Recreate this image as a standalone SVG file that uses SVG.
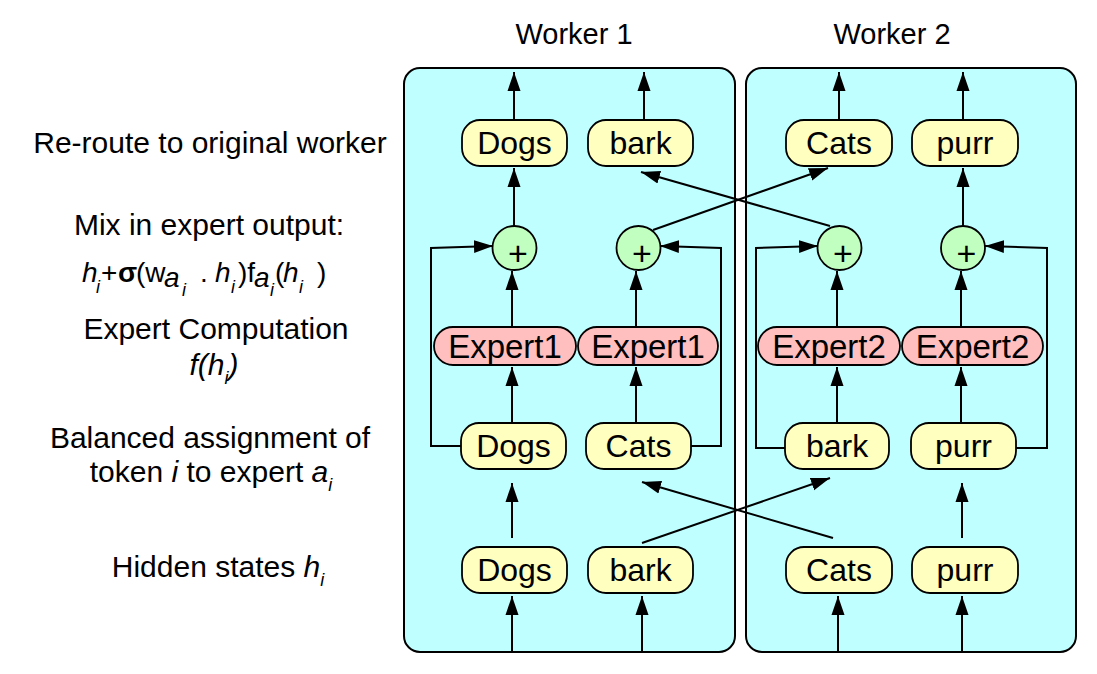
<svg xmlns="http://www.w3.org/2000/svg" width="1097" height="674" viewBox="0 0 1097 674">
<defs>
<style>
.txt{font-family:"Liberation Sans",Arial,sans-serif;fill:#000}
.lbl{font-size:30px}
.node{fill:#FFFFC0;stroke:#000;stroke-width:1.8}
.exp{fill:#FFBFBF;stroke:#000;stroke-width:1.8}
.plus{fill:#C0FFC0;stroke:#000;stroke-width:1.8}
.box{fill:#BFFFFF;stroke:#000;stroke-width:2}
.nt{font-size:32px;text-anchor:middle}
.et{font-size:33px;text-anchor:middle}
.pt{font-size:34px;text-anchor:middle}
.c{fill:none;stroke:#000;stroke-width:2;marker-end:url(#ah)}
.it{font-style:italic}
</style>
<marker id="ah" markerUnits="userSpaceOnUse" markerWidth="20" markerHeight="14" refX="19" refY="7" orient="auto">
<path d="M0,0.5 L19,7 L0,13.5 z" fill="#000"/>
</marker>
</defs>
<rect width="1097" height="674" fill="#fff"/>

<g id="labels" class="txt lbl">
<text x="574" y="44" text-anchor="middle" font-size="29">Worker 1</text>
<text x="892" y="44" text-anchor="middle" font-size="29">Worker 2</text>
<text x="210" y="153" text-anchor="middle">Re-route to original worker</text>
<text x="209" y="235" text-anchor="middle">Mix in expert output:</text>
<text y="282" font-size="28"><tspan x="82" class="it">h</tspan><tspan x="96" y="293" font-size="18" class="it">i</tspan><tspan x="101" y="282">+</tspan><tspan x="118" font-weight="bold">σ</tspan><tspan x="136">(w</tspan><tspan x="164" y="287" class="it">a</tspan><tspan x="182" y="296" font-size="18" class="it">i</tspan><tspan x="200" y="282">.</tspan><tspan x="215" class="it">h</tspan><tspan x="231" y="293" font-size="18" class="it">i</tspan><tspan x="238" y="282">)f</tspan><tspan x="254" y="287" class="it">a</tspan><tspan x="270" y="296" font-size="18" class="it">i</tspan><tspan x="275" y="282">(</tspan><tspan x="283" class="it">h</tspan><tspan x="299" y="293" font-size="18" class="it">i</tspan><tspan x="317" y="282">)</tspan></text>
<text x="216" y="339" text-anchor="middle">Expert Computation</text>
<text x="214" y="375" text-anchor="middle"><tspan class="it">f(h</tspan><tspan class="it" font-size="18" dy="9">i</tspan><tspan class="it" dy="-9">)</tspan></text>
<text x="210" y="448" text-anchor="middle">Balanced assignment of</text>
<text x="211" y="482" text-anchor="middle">token <tspan class="it">i</tspan> to expert <tspan class="it">a</tspan><tspan class="it" font-size="18" dy="9">i</tspan></text>
<text x="218" y="577" text-anchor="middle">Hidden states <tspan class="it">h</tspan><tspan class="it" font-size="18" dy="9">i</tspan></text>
</g>

<g id="worker1">
<rect class="box" x="404" y="68" width="331" height="584" rx="16"/>
</g>
<g id="worker2">
<rect class="box" x="746" y="68" width="330" height="584" rx="16"/>
</g>

<g id="connectors">
<line class="c" x1="512" y1="652" x2="512" y2="596"/>
<line class="c" x1="642" y1="652" x2="642" y2="596"/>
<line class="c" x1="838" y1="652" x2="838" y2="596"/>
<line class="c" x1="962" y1="652" x2="962" y2="596"/>
<line class="c" x1="512" y1="538" x2="512" y2="483"/>
<line class="c" x1="642" y1="543" x2="830" y2="478"/>
<line class="c" x1="833" y1="538" x2="642" y2="482"/>
<line class="c" x1="962" y1="538" x2="962" y2="483"/>
<line class="c" x1="512" y1="423" x2="512" y2="367"/>
<line class="c" x1="636" y1="423" x2="636" y2="367"/>
<line class="c" x1="837" y1="423" x2="837" y2="367"/>
<line class="c" x1="961" y1="423" x2="961" y2="367"/>
<line class="c" x1="512" y1="327" x2="512" y2="271"/>
<line class="c" x1="636" y1="327" x2="636" y2="271"/>
<line class="c" x1="837" y1="327" x2="837" y2="271"/>
<line class="c" x1="961" y1="327" x2="961" y2="271"/>
<polyline class="c" points="461,446 431,446 431,248 493,246"/>
<polyline class="c" points="691,446 721,446 721,248 660,246"/>
<polyline class="c" points="785,448 756,448 756,248 818,246"/>
<polyline class="c" points="1016,448 1047,448 1047,248 985,246"/>
<line class="c" x1="514" y1="226" x2="514" y2="168"/>
<line class="c" x1="653" y1="230" x2="828" y2="168"/>
<line class="c" x1="830" y1="226" x2="641" y2="172"/>
<line class="c" x1="963" y1="226" x2="963" y2="168"/>
<line class="c" x1="514" y1="120" x2="514" y2="72"/>
<line class="c" x1="644" y1="120" x2="644" y2="72"/>
<line class="c" x1="839" y1="120" x2="839" y2="72"/>
<line class="c" x1="963" y1="120" x2="963" y2="72"/>
</g>

<g id="w1_out_dogs"><rect class="node" x="462" y="120" width="105" height="46" rx="18"/><text class="txt nt" x="514.5" y="154">Dogs</text></g>
<g id="w1_out_bark"><rect class="node" x="588" y="120" width="105" height="46" rx="18"/><text class="txt nt" x="640.5" y="154">bark</text></g>
<g id="w2_out_cats"><rect class="node" x="786" y="120" width="106" height="46" rx="18"/><text class="txt nt" x="839" y="154">Cats</text></g>
<g id="w2_out_purr"><rect class="node" x="912" y="120" width="106" height="46" rx="18"/><text class="txt nt" x="965" y="154">purr</text></g>

<g id="w1_plus1"><circle class="plus" cx="514.5" cy="248" r="22"/><text class="txt pt" x="518" y="265">+</text></g>
<g id="w1_plus2"><circle class="plus" cx="638.5" cy="248" r="22"/><text class="txt pt" x="642" y="265">+</text></g>
<g id="w2_plus1"><circle class="plus" cx="839.5" cy="248" r="22"/><text class="txt pt" x="843" y="265">+</text></g>
<g id="w2_plus2"><circle class="plus" cx="963" cy="248" r="22"/><text class="txt pt" x="966.5" y="265">+</text></g>

<g id="w1_expert1a"><rect class="exp" x="434" y="327" width="142" height="38" rx="19"/><text class="txt et" x="505" y="358">Expert1</text></g>
<g id="w1_expert1b"><rect class="exp" x="578" y="327" width="140" height="38" rx="19"/><text class="txt et" x="648" y="358">Expert1</text></g>
<g id="w2_expert2a"><rect class="exp" x="758" y="327" width="142" height="38" rx="19"/><text class="txt et" x="829" y="358">Expert2</text></g>
<g id="w2_expert2b"><rect class="exp" x="902" y="327" width="141" height="38" rx="19"/><text class="txt et" x="972.5" y="358">Expert2</text></g>

<g id="w1_mid_dogs"><rect class="node" x="461" y="423" width="105" height="46" rx="18"/><text class="txt nt" x="513.5" y="457">Dogs</text></g>
<g id="w1_mid_cats"><rect class="node" x="586" y="423" width="105" height="46" rx="18"/><text class="txt nt" x="638.5" y="457">Cats</text></g>
<g id="w2_mid_bark"><rect class="node" x="785" y="423" width="104" height="46" rx="18"/><text class="txt nt" x="837" y="457">bark</text></g>
<g id="w2_mid_purr"><rect class="node" x="911" y="423" width="105" height="46" rx="18"/><text class="txt nt" x="963.5" y="457">purr</text></g>

<g id="w1_in_dogs"><rect class="node" x="462" y="547" width="105" height="46" rx="18"/><text class="txt nt" x="514.5" y="581">Dogs</text></g>
<g id="w1_in_bark"><rect class="node" x="588" y="547" width="105" height="46" rx="18"/><text class="txt nt" x="640.5" y="581">bark</text></g>
<g id="w2_in_cats"><rect class="node" x="786" y="547" width="106" height="46" rx="18"/><text class="txt nt" x="839" y="581">Cats</text></g>
<g id="w2_in_purr"><rect class="node" x="912" y="547" width="106" height="46" rx="18"/><text class="txt nt" x="965" y="581">purr</text></g>
</svg>
